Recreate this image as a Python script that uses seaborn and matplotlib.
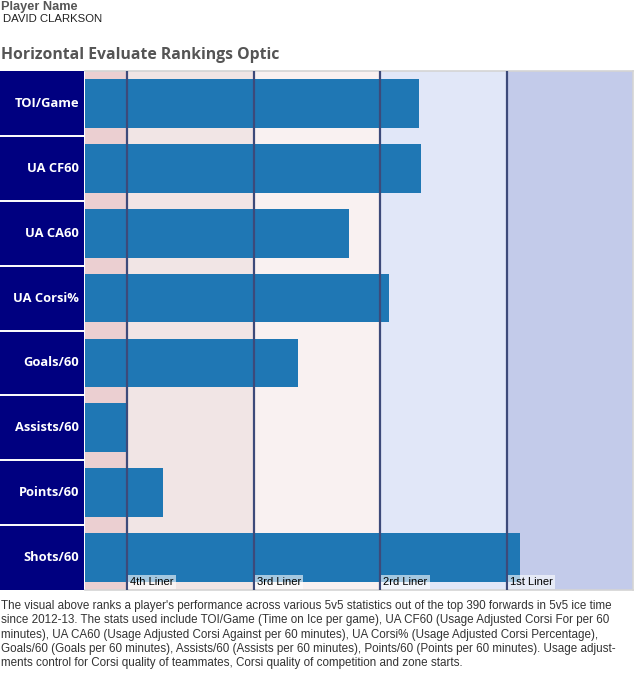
import matplotlib
matplotlib.use("Agg")
import matplotlib.pyplot as plt
import matplotlib.transforms as mtransforms
import seaborn as sns
import pandas as pd

# ---- data ----
player_name = "DAVID CLARKSON"
categories = ["TOI/Game", "UA CF60", "UA CA60", "UA Corsi%", "Goals/60",
              "Assists/60", "Points/60", "Shots/60"]
scores = [237.4, 238.8, 188.2, 216.7, 151.9, 29.2, 55.6, 309.4]
line_cutoffs = [30, 120, 210, 300]
line_labels = ["4th Liner", "3rd Liner", "2rd Liner", "1st Liner"]
band_edges = [0, 30, 120, 210, 300, 390]
band_colors = ["#EBCFD1", "#F1E5E5", "#F9F1F1", "#E1E7F8", "#C3CBEA"]
footer_lines = [
    "The visual above ranks a player's performance across various 5v5 statistics out of the top 390 forwards in 5v5 ice time",
    "since 2012-13. The stats used include TOI/Game (Time on Ice per game), UA CF60 (Usage Adjusted Corsi For per 60",
    "minutes), UA CA60 (Usage Adjusted Corsi Against per 60 minutes), UA Corsi% (Usage Adjusted Corsi Percentage),",
    "Goals/60 (Goals per 60 minutes), Assists/60 (Assists per 60 minutes), Points/60 (Points per 60 minutes). Usage adjust-",
    "ments control for Corsi quality of teammates, Corsi quality of competition and zone starts.",
]

df = pd.DataFrame({"stat": categories, "score": scores})

W, H = 634, 684
sns.set_theme(style="white")
plt.rcParams["font.family"] = ["Liberation Sans", "DejaVu Sans"]

fig = plt.figure(figsize=(W / 100, H / 100), dpi=100)
fig.patch.set_facecolor("white")

def px_axes(x0, y0, x1, y1):
    return fig.add_axes([x0 / W, 1 - y1 / H, (x1 - x0) / W, (y1 - y0) / H])

top, bottom = 71, 590
ax = px_axes(85, top, 633, bottom)
ax_lab = px_axes(0, top, 83.5, bottom)

# background bands
for (a, b), c in zip(zip(band_edges[:-1], band_edges[1:]), band_colors):
    ax.axvspan(a, b, color=c, lw=0, zorder=0)

sns.barplot(data=df, x="score", y="stat", orient="h", color="#1F77B4",
            width=0.75, saturation=1, linewidth=0, edgecolor="none",
            ax=ax, zorder=2)

for xc in line_cutoffs:
    ax.axvline(xc, color="#3D4A7A", lw=1.6, zorder=3)

ax.set_xlim(band_edges[0], band_edges[-1])
ax.set_ylim(len(categories) - 0.5, -0.5)
ax.set_xlabel("")
ax.set_ylabel("")
ax.set_xticks([])
ax.set_yticks([])
for s in ["top", "right", "bottom"]:
    ax.spines[s].set_color("#D4D4D4")
    ax.spines[s].set_linewidth(1.2)
ax.spines["left"].set_visible(False)

trans = mtransforms.blended_transform_factory(ax.transData, ax.transAxes)
for xc, lab in zip(line_cutoffs, line_labels):
    ax.text(xc + 2.3, 0.006, lab, transform=trans, ha="left", va="bottom",
            fontsize=8.0, color="black", zorder=4,
            bbox=dict(boxstyle="square,pad=0.2", fc="white", ec="none", alpha=0.6))

# label column
ax_lab.set_xlim(0, 1)
ax_lab.set_ylim(len(categories) - 0.5, -0.5)
ax_lab.set_facecolor("#000080")
for i in range(1, len(categories)):
    ax_lab.axhline(i - 0.5, color="white", lw=1.4)
for i, cat in enumerate(categories):
    ax_lab.text(0.948, i, cat, ha="right", va="center", color="white",
                fontsize=9.3, fontweight="bold", family=["Open Sans", "DejaVu Sans"])
ax_lab.set_xticks([])
ax_lab.set_yticks([])
for s in ax_lab.spines.values():
    s.set_visible(False)

# header
fig.text(1 / W, 1 - 1 / H, "Player Name", ha="left", va="top", fontsize=9.2,
         fontweight="bold", color="#555555")
fig.text(3 / W, 1 - 14 / H, player_name, ha="left", va="top", fontsize=8.2,
         color="#222222")
fig.text(1 / W, 1 - 55 / H, "Horizontal Evaluate Rankings Optic", ha="left",
         va="center", fontsize=11.3, fontweight="bold", color="#555555",
         family=["Open Sans", "DejaVu Sans"])

# footer
for k, line in enumerate(footer_lines):
    fig.text(1 / W, 1 - (606 + 14.3 * k) / H, line, ha="left", va="center",
             fontsize=8.4, color="#333333")

fig.savefig("out.png", dpi=100)
